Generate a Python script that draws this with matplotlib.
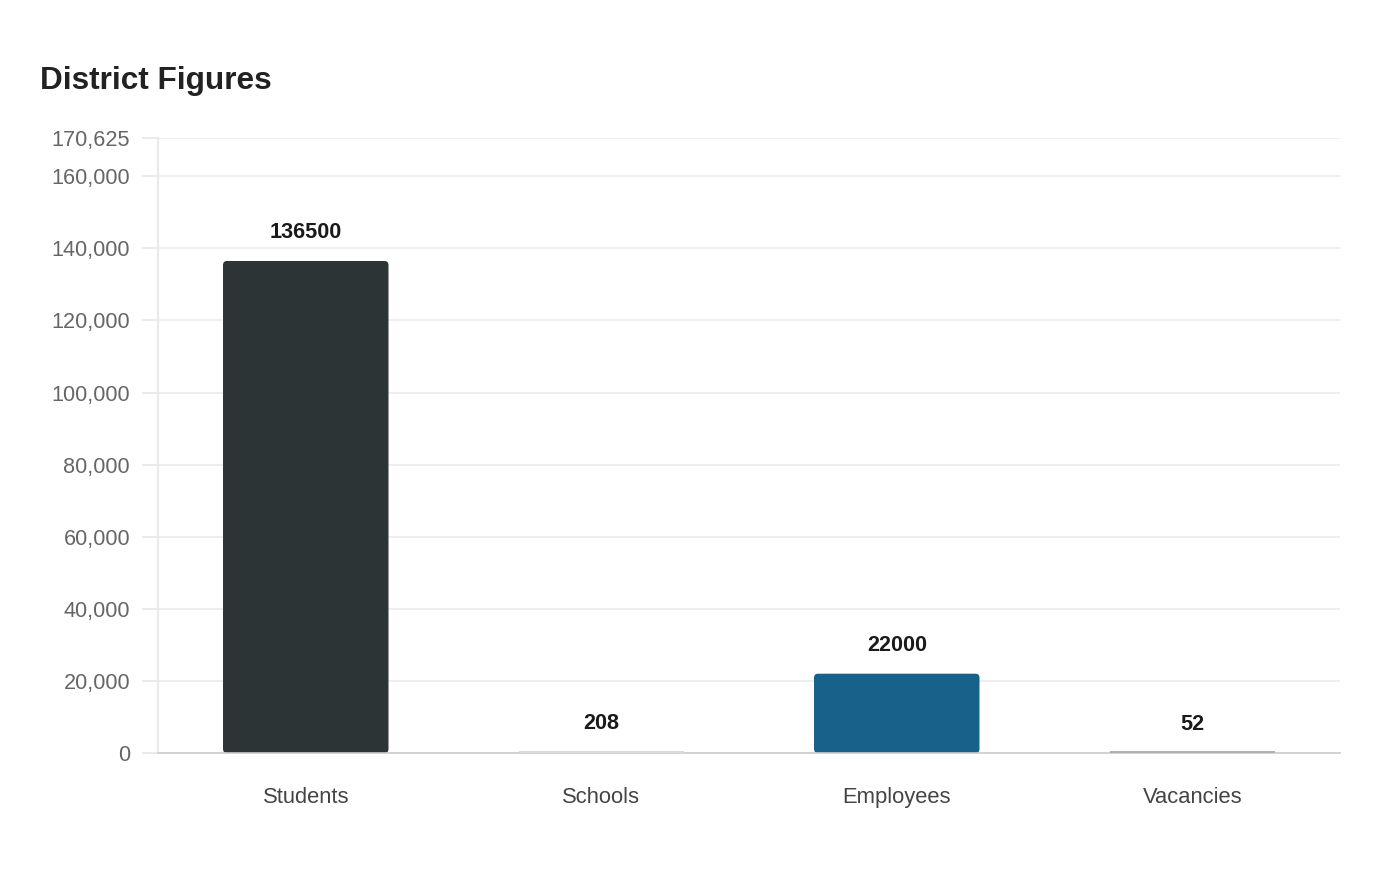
import matplotlib
matplotlib.use('Agg')
import matplotlib.pyplot as plt
from matplotlib.patches import FancyBboxPatch, Rectangle
from matplotlib.ticker import FuncFormatter

# data
categories = ['Students', 'Schools', 'Employees', 'Vacancies']
values = [136500, 208, 22000, 52]
bar_colors = ['#2d3436', '#d9d9d9', '#16628a', '#b0b0b0']
y_ticks = [0, 20000, 40000, 60000, 80000, 100000, 120000, 140000, 160000, 170625]
y_max = 170625

plt.rcParams['font.family'] = ['Liberation Sans', 'DejaVu Sans']

fig = plt.figure(figsize=(14, 8.8), dpi=100)
ax = fig.add_axes([158 / 1400, 1 - 753 / 880, 1182 / 1400, 615 / 880])

x = list(range(len(categories)))
width = 0.56
bars = ax.bar(x, values, width=width, color=bar_colors)

# swap in bars with slightly rounded corners (tiny ones get a thin strip)
x_units_per_px = 4 / 1182
y_units_per_px = y_max / 615
for b in bars:
    b.set_visible(False)
    h = b.get_height()
    if h < 10 * y_units_per_px:
        p = Rectangle((b.get_x(), 0), b.get_width(), max(h, 2.5 * y_units_per_px),
                      facecolor=b.get_facecolor(), edgecolor='none', zorder=5)
    else:
        p = FancyBboxPatch((b.get_x(), b.get_y()), b.get_width(), h,
                           boxstyle='round,pad=0,rounding_size=%f' % (4 * x_units_per_px),
                           mutation_aspect=y_units_per_px / x_units_per_px,
                           facecolor=b.get_facecolor(), edgecolor='none', zorder=3)
    ax.add_patch(p)

for xi, v in zip(x, values):
    ax.annotate(str(v), (xi, v), xytext=(0, 13), textcoords='offset points',
                ha='center', va='bottom', fontsize=15.6, fontweight='bold',
                color='#1a1a1a')

ax.set_xlim(-0.5, 3.5)
ax.set_ylim(0, y_max)
ax.set_xticks(x)
ax.set_xticklabels(categories)
ax.set_yticks(y_ticks)
ax.yaxis.set_major_formatter(FuncFormatter(lambda v, p: f'{int(v):,}'))

ax.grid(axis='y', color='#ebebeb', linewidth=1.2, zorder=0)
ax.set_axisbelow(True)
for s in ['top', 'right']:
    ax.spines[s].set_visible(False)
ax.spines['left'].set_color('#e6e6e6')
ax.spines['left'].set_linewidth(1.2)
ax.spines['bottom'].set_color('#cccccc')
ax.spines['bottom'].set_linewidth(1.2)
ax.spines['bottom'].set_zorder(4)

ax.tick_params(axis='y', length=11.5, width=1.2, color='#e6e6e6', pad=8.6,
               labelsize=15.6, labelcolor='#666666')
ax.tick_params(axis='x', length=0, pad=24.5, labelsize=15.8, labelcolor='#444444')

fig.text(40 / 1400, 1 - 81 / 880, 'District Figures', fontsize=22.7,
         fontweight='bold', color='#222222', ha='left', va='center')

fig.savefig('out.png', dpi=100, facecolor='white')
